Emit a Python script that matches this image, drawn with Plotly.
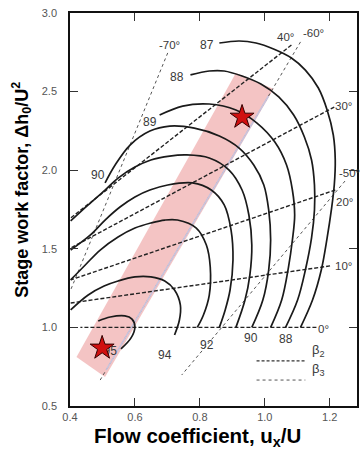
import plotly.graph_objects as go

# ---------------- data ----------------
# efficiency contours: flow coefficient (phi) and stage work factor (psi)
phi_87 = [0.860, 0.921, 0.973, 1.027, 1.082, 1.125, 1.165, 1.192, 1.211, 1.217, 1.214, 1.205, 1.192, 1.174, 1.147, 1.110]
psi_87 = [2.809, 2.822, 2.809, 2.771, 2.714, 2.637, 2.523, 2.383, 2.224, 2.065, 1.906, 1.747, 1.569, 1.365, 1.174, 1.000]

phi_88 = [0.771, 0.829, 0.875, 0.930, 0.988, 1.043, 1.089, 1.122, 1.144, 1.153, 1.153, 1.144, 1.125, 1.101, 1.064]
psi_88 = [2.606, 2.631, 2.631, 2.599, 2.548, 2.466, 2.351, 2.211, 2.065, 1.906, 1.747, 1.569, 1.365, 1.174, 1.000]

phi_89 = [0.676, 0.747, 0.829, 0.911, 0.976, 1.031, 1.067, 1.085, 1.092, 1.085, 1.073, 1.052, 1.018]
psi_89 = [2.351, 2.408, 2.421, 2.383, 2.300, 2.179, 2.033, 1.874, 1.715, 1.556, 1.384, 1.174, 1.000]

phi_90 = [0.508, 0.539, 0.585, 0.646, 0.707, 0.783, 0.860, 0.921, 0.966, 0.997, 1.012, 1.018, 1.012, 0.994, 0.960]
psi_90 = [1.919, 2.033, 2.160, 2.249, 2.281, 2.268, 2.218, 2.141, 2.033, 1.906, 1.747, 1.556, 1.365, 1.174, 1.000]

phi_91 = [0.402, 0.456, 0.508, 0.548, 0.600, 0.649, 0.707, 0.759, 0.829, 0.890, 0.930, 0.951, 0.960, 0.954, 0.939, 0.911]
psi_91 = [1.677, 1.779, 1.874, 1.950, 2.020, 2.065, 2.090, 2.097, 2.078, 2.001, 1.874, 1.715, 1.524, 1.333, 1.174, 1.000]

phi_92 = [0.402, 0.463, 0.508, 0.554, 0.600, 0.646, 0.701, 0.777, 0.835, 0.875, 0.896, 0.902, 0.893, 0.878, 0.860]
psi_92 = [1.492, 1.588, 1.683, 1.766, 1.830, 1.874, 1.906, 1.919, 1.874, 1.779, 1.620, 1.429, 1.238, 1.111, 1.000]

phi_93 = [0.402, 0.447, 0.493, 0.548, 0.600, 0.649, 0.692, 0.731, 0.789, 0.820, 0.832, 0.829, 0.811, 0.792]
psi_93 = [1.302, 1.397, 1.492, 1.575, 1.632, 1.664, 1.683, 1.683, 1.632, 1.524, 1.384, 1.206, 1.079, 1.000]

phi_94 = [0.402, 0.456, 0.505, 0.548, 0.600, 0.649, 0.692, 0.722, 0.740, 0.737, 0.722]
psi_94 = [1.111, 1.206, 1.263, 1.295, 1.321, 1.321, 1.295, 1.238, 1.142, 1.047, 0.952]

phi_95 = [0.487, 0.524, 0.569, 0.591, 0.600, 0.588, 0.557]
psi_95 = [1.041, 1.066, 1.073, 1.053, 1.003, 0.933, 0.863]

# beta2 (dashed) lines: end points
beta2_names = ["40°", "30°", "20°", "10°", "0°"]
beta2_phi = [[1.082, 0.402], [1.214, 0.402], [1.217, 0.402], [1.201, 0.402], [1.159, 0.432]]
beta2_psi = [[2.796, 1.696], [2.402, 1.505], [1.874, 1.302], [1.391, 1.155], [1.000, 1.000]]

# beta3 (dotted) lines: end points
beta3_names = ["-70°", "-60°", "-50°"]
beta3_phi = [[0.701, 0.402], [1.110, 0.493], [1.247, 0.744]]
beta3_psi = [[2.746, 1.238], [2.816, 0.665], [1.931, 0.697]]

# highlighted design band and the two design points
band_phi = [0.420, 0.911, 1.027, 0.508]
band_psi = [0.812, 2.618, 2.517, 0.685]
star_phi = [0.930, 0.499]
star_psi = [2.338, 0.869]

x_ticks = [0.4, 0.6, 0.8, 1.0, 1.2]
y_ticks = [0.5, 1.0, 1.5, 2.0, 2.5, 3.0]

# ---------------- figure ----------------
fig = go.Figure()

# pink band
fig.add_trace(go.Scatter(x=band_phi + band_phi[:1], y=band_psi + band_psi[:1], mode="lines",
                         fill="toself", fillcolor="#f4c4c4", line=dict(width=0), hoverinfo="skip"))

DOT = "#555555"
for ph, ps in zip(beta3_phi, beta3_psi):
    fig.add_trace(go.Scatter(x=ph, y=ps, mode="lines", line=dict(color=DOT, width=1, dash="dot")))

# pale part of the -60 deg line inside the band
p0x, p1x = beta3_phi[1]
p0y, p1y = beta3_psi[1]
t0, t1 = 0.16, 0.97
fig.add_trace(go.Scatter(x=[p0x + t0 * (p1x - p0x), p0x + t1 * (p1x - p0x)],
                         y=[p0y + t0 * (p1y - p0y), p0y + t1 * (p1y - p0y)],
                         mode="lines", line=dict(color="#c9c4dd", width=1.6)))

for ph, ps in zip(beta2_phi, beta2_psi):
    fig.add_trace(go.Scatter(x=ph, y=ps, mode="lines",
                             line=dict(color="#222222", width=1.4, dash="4px,2px")))

contours = [(phi_87, psi_87), (phi_88, psi_88), (phi_89, psi_89), (phi_90, psi_90), (phi_91, psi_91),
            (phi_92, psi_92), (phi_93, psi_93), (phi_94, psi_94), (phi_95, psi_95)]
for ph, ps in contours:
    fig.add_trace(go.Scatter(x=ph, y=ps, mode="lines",
                             line=dict(color="#1a1a1a", width=1.7, shape="spline", smoothing=1.0)))

# "95" label sits under the star
fig.add_trace(go.Scatter(x=[0.524], y=[0.843], mode="text", text=["95"],
                         textfont=dict(family="Liberation Sans, Arial", size=12, color="#3a3a3a")))

fig.add_trace(go.Scatter(x=star_phi, y=star_psi, mode="markers",
                         marker=dict(symbol="star", size=18, color="#d01010",
                                     line=dict(color="#330000", width=1))))

LBL = dict(family="Liberation Sans, Arial", size=12, color="#3a3a3a")
labels = [
    ("87", 0.823, 2.796), ("88", 0.731, 2.593), ("89", 0.646, 2.307), ("90", 0.487, 1.969),
    ("94", 0.692, 0.824), ("92", 0.823, 0.888), ("90", 0.957, 0.933), ("88", 1.064, 0.926),
]
for t, x, y in labels:
    fig.add_annotation(x=x, y=y, text=t, showarrow=False, font=LBL)

deg_pos = {"-70°": (0.707, 2.796), "40°": (1.065, 2.845), "-60°": (1.151, 2.873),
           "30°": (1.243, 2.408), "-50°": (1.262, 1.982), "20°": (1.247, 1.798),
           "10°": (1.243, 1.391), "0°": (1.181, 0.990)}
for t in beta3_names + beta2_names:
    x, y = deg_pos[t]
    fig.add_annotation(x=x, y=y, text=t, showarrow=False, font=dict(LBL, size=11.5))

# legend drawn by hand (paper coords)
fig.add_shape(type="line", xref="paper", yref="paper", x0=0.65, x1=0.82, y0=0.115, y1=0.115,
              line=dict(color="#333333", width=1.2, dash="3px,2px"))
fig.add_shape(type="line", xref="paper", yref="paper", x0=0.65, x1=0.82, y0=0.066, y1=0.066,
              line=dict(color="#555555", width=1, dash="dot"))
fig.add_annotation(xref="paper", yref="paper", x=0.835, y=0.115, xanchor="left", text="β<sub>2</sub>",
                   showarrow=False, font=dict(LBL, size=13))
fig.add_annotation(xref="paper", yref="paper", x=0.835, y=0.066, xanchor="left", text="β<sub>3</sub>",
                   showarrow=False, font=dict(LBL, size=13))

# axis titles
TITLE = dict(family="Liberation Sans, Arial", size=18, color="#000000")
fig.add_annotation(xref="paper", yref="paper", x=-0.218, y=0.55, textangle=-90,
                   text="<b>Stage work factor, Δh<sub>0</sub>/U<sup>2</sup></b>", showarrow=False, font=TITLE)
fig.add_annotation(xref="paper", yref="paper", x=0.443, y=-0.118,
                   text="<b>Flow coefficient, u<sub>x</sub>/U</b>", showarrow=False, font=dict(TITLE, size=20.5))

axis_common = dict(showgrid=False, zeroline=False, showline=True, linecolor="#111111", linewidth=1.5,
                   mirror="ticks", ticks="inside", ticklen=8, tickcolor="#333333", tickwidth=1,
                   tickfont=dict(family="Liberation Sans, Arial", size=11, color="#555555"))
fig.update_xaxes(range=[0.4, 1.284], tickvals=x_ticks, ticktext=[f"{v:.1f}" for v in x_ticks],
                 ticklabelstandoff=0, **axis_common)
fig.update_yaxes(range=[0.5, 3.0], tickvals=y_ticks, ticktext=[f"{v:.1f}" for v in y_ticks],
                 ticklabelstandoff=9, **axis_common)

fig.update_layout(width=360, height=451, margin=dict(l=70, r=1, t=13, b=45),
                  plot_bgcolor="white", paper_bgcolor="white", showlegend=False)

fig.write_html("out.html")
